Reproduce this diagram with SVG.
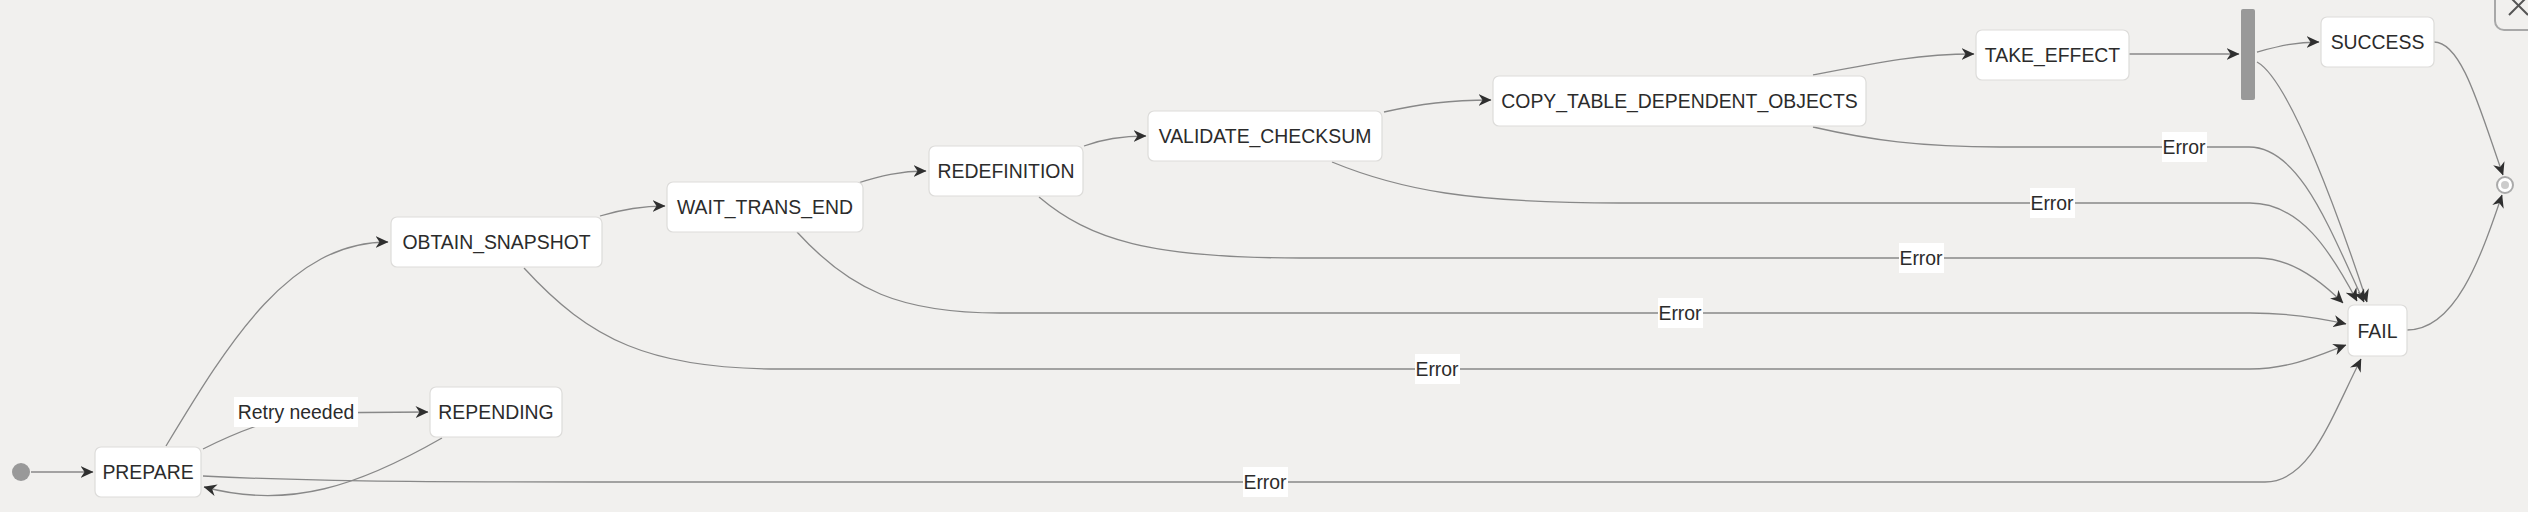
<svg xmlns="http://www.w3.org/2000/svg" width="2528" height="512" viewBox="0 0 2528 512">
<style>
.bg{fill:#f1f0ee}
.node rect{fill:#ffffff;stroke:#dddcda;stroke-width:1.2}
.node text,.lbl text{font-family:"Liberation Sans",Arial,sans-serif;font-size:19.4px;fill:#2b2b2b;text-anchor:middle}
.edge{fill:none;stroke:#888888;stroke-width:1.3;marker-end:url(#arr)}
.lbl rect{fill:#ffffff}
</style>
<defs>
<marker id="arr" viewBox="0 0 13 12" refX="12.5" refY="6" markerWidth="13" markerHeight="12" markerUnits="userSpaceOnUse" orient="auto">
<path d="M0,0 L13,6 L0,12 L4,6 Z" fill="#2f2f2f"/>
</marker>
</defs>
<rect class="bg" x="0" y="0" width="2528" height="512"/>

<g id="connectors">
<path class="edge" d="M31,472 L93,472"/>
<path class="edge" d="M166,446 C230,340 290,242 388,242"/>
<path class="edge" d="M203,449 Q250,425 300,413 L428,412"/>
<path class="edge" d="M442,438 C360,485 290,510 204,487"/>
<path class="edge" d="M203,476 C300,481 400,482 600,482 L2265,482 C2310,482 2330,420 2361,359"/>
<path class="edge" d="M600,216 C620,210 640,206 665,206"/>
<path class="edge" d="M858,183 C880,176 900,171 926,171"/>
<path class="edge" d="M1084,146 C1100,140 1120,136 1146,136"/>
<path class="edge" d="M1384,112 C1420,104 1450,100 1491,100"/>
<path class="edge" d="M1813,75 C1880,62 1920,54 1974,54"/>
<path class="edge" d="M2129,54 L2239,54"/>
<path class="edge" d="M2257,52 C2280,46 2295,42 2319,42"/>
<path class="edge" d="M2257,62 C2290,80 2340,220 2367,302"/>
<path class="edge" d="M1813,127 C1870,140 1920,147 2000,147 L2249,147 C2300,147 2330,230 2364,302"/>
<path class="edge" d="M1332,162 C1400,190 1470,203 1620,203 L2250,203 C2300,203 2330,250 2357,301"/>
<path class="edge" d="M1039,197 C1090,240 1150,258 1300,258 L2258,258 C2290,258 2320,280 2343,303"/>
<path class="edge" d="M797,232 C850,290 900,313 1000,313 L2250,313 C2290,313 2320,318 2346,324"/>
<path class="edge" d="M524,268 C590,340 650,369 780,369 L2250,369 C2290,369 2320,355 2346,345"/>
<path class="edge" d="M2407,330 C2455,330 2480,260 2502,195"/>
<path class="edge" d="M2434,42 C2462,42 2480,110 2503,175"/>
<g class="lbl"><rect x="234" y="397" width="124" height="30"/><text x="296" y="419">Retry needed</text></g>
<g class="lbl"><rect x="1243" y="467" width="45" height="30"/><text x="1265" y="489">Error</text></g>
<g class="lbl"><rect x="1415" y="354" width="45" height="30"/><text x="1437" y="376">Error</text></g>
<g class="lbl"><rect x="1658" y="298" width="45" height="30"/><text x="1680" y="320">Error</text></g>
<g class="lbl"><rect x="1899" y="243" width="45" height="30"/><text x="1921" y="265">Error</text></g>
<g class="lbl"><rect x="2030" y="188" width="45" height="30"/><text x="2052" y="210">Error</text></g>
<g class="lbl"><rect x="2162" y="132" width="45" height="30"/><text x="2184" y="154">Error</text></g>
</g>

<g id="start"><circle cx="21" cy="472" r="9" fill="#999999"/></g>
<g id="PREPARE" class="node"><rect x="95" y="447" width="106" height="50" rx="6"/><text x="148" y="479">PREPARE</text></g>
<g id="REPENDING" class="node"><rect x="430" y="387" width="132" height="50" rx="6"/><text x="496" y="419">REPENDING</text></g>
<g id="OBTAIN_SNAPSHOT" class="node"><rect x="391" y="217" width="211" height="50" rx="6"/><text x="496.5" y="249">OBTAIN_SNAPSHOT</text></g>
<g id="WAIT_TRANS_END" class="node"><rect x="667" y="182" width="196" height="50" rx="6"/><text x="765" y="214">WAIT_TRANS_END</text></g>
<g id="REDEFINITION" class="node"><rect x="929" y="146" width="154" height="50" rx="6"/><text x="1006" y="178">REDEFINITION</text></g>
<g id="VALIDATE_CHECKSUM" class="node"><rect x="1148" y="111" width="234" height="50" rx="6"/><text x="1265" y="143">VALIDATE_CHECKSUM</text></g>
<g id="COPY_TABLE_DEPENDENT_OBJECTS" class="node"><rect x="1493" y="76" width="373" height="50" rx="6"/><text x="1679.5" y="108">COPY_TABLE_DEPENDENT_OBJECTS</text></g>
<g id="TAKE_EFFECT" class="node"><rect x="1976" y="30" width="153" height="50" rx="6"/><text x="2052.5" y="62">TAKE_EFFECT</text></g>
<g id="fork"><rect x="2241" y="9" width="14" height="91" rx="2" fill="#999999"/></g>
<g id="SUCCESS" class="node"><rect x="2321" y="17" width="113" height="50" rx="6"/><text x="2377.5" y="49">SUCCESS</text></g>
<g id="FAIL" class="node"><rect x="2348" y="305" width="59" height="51" rx="6"/><text x="2377.5" y="337.5">FAIL</text></g>
<g id="end"><circle cx="2505" cy="185" r="8" fill="#ffffff" stroke="#aaaaaa" stroke-width="2"/><circle cx="2505" cy="185" r="4" fill="#cccccc"/></g>

<g id="close">
<rect x="2495" y="-22" width="52" height="52" rx="9" fill="none" stroke="#a8a8a8" stroke-width="2"/>
<path d="M2509,15 L2528,-4 M2509,-4 L2528,15" stroke="#555555" stroke-width="2" fill="none"/>
</g>
</svg>
